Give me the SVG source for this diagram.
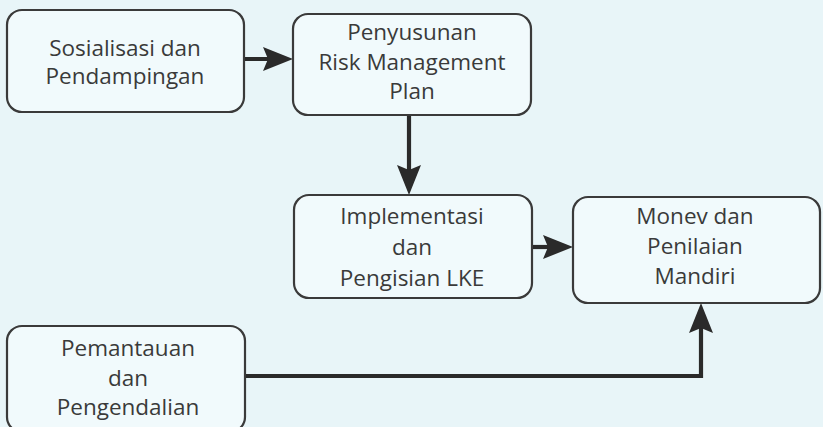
<svg xmlns="http://www.w3.org/2000/svg" width="823" height="427" viewBox="0 0 823 427">
<style>
.box{fill:#f1fafc;stroke:#3a3a3a;stroke-width:2.2}
.t{font-family:"Open Sans","Noto Sans","Liberation Sans",sans-serif;font-size:22.5px;fill:#3a3a3a;text-anchor:middle}
.c{fill:none;stroke:#2a2a2a;stroke-width:4.2}
</style>
<defs>
<marker id="ah" markerUnits="userSpaceOnUse" markerWidth="30" markerHeight="26" viewBox="0 0 30 26" refX="20" refY="13" orient="auto">
<path d="M0,1 L30,13 L0,25 L5,13 z" fill="#2a2a2a"/>
</marker>
</defs>
<rect width="823" height="427" fill="#e8f5f8"/>
<g id="connectors">
<path class="c" d="M244,59 H283" marker-end="url(#ah)"/>
<path class="c" d="M409,115 V185" marker-end="url(#ah)"/>
<path class="c" d="M532,247 H563" marker-end="url(#ah)"/>
<path class="c" d="M245,376 H701 V313" marker-end="url(#ah)"/>
</g>
<g id="n1">
<rect class="box" x="7" y="10" width="237" height="102" rx="15"/>
<text class="t" x="125" y="56">Sosialisasi dan</text>
<text class="t" x="125" y="84">Pendampingan</text>
</g>
<g id="n2">
<rect class="box" x="293" y="14" width="238" height="101" rx="15"/>
<text class="t" x="412" y="40">Penyusunan</text>
<text class="t" x="412" y="70">Risk Management</text>
<text class="t" x="412" y="99">Plan</text>
</g>
<g id="n3">
<rect class="box" x="294" y="195" width="238" height="103" rx="15"/>
<text class="t" x="412" y="224">Implementasi</text>
<text class="t" x="412" y="255">dan</text>
<text class="t" x="412" y="286">Pengisian LKE</text>
</g>
<g id="n4">
<rect class="box" x="573" y="197" width="247" height="106" rx="15"/>
<text class="t" x="695" y="224">Monev dan</text>
<text class="t" x="695" y="254">Penilaian</text>
<text class="t" x="695" y="284">Mandiri</text>
</g>
<g id="n5">
<rect class="box" x="7" y="326" width="238" height="106" rx="15"/>
<text class="t" x="128" y="356">Pemantauan</text>
<text class="t" x="128" y="386">dan</text>
<text class="t" x="128" y="415">Pengendalian</text>
</g>
</svg>
